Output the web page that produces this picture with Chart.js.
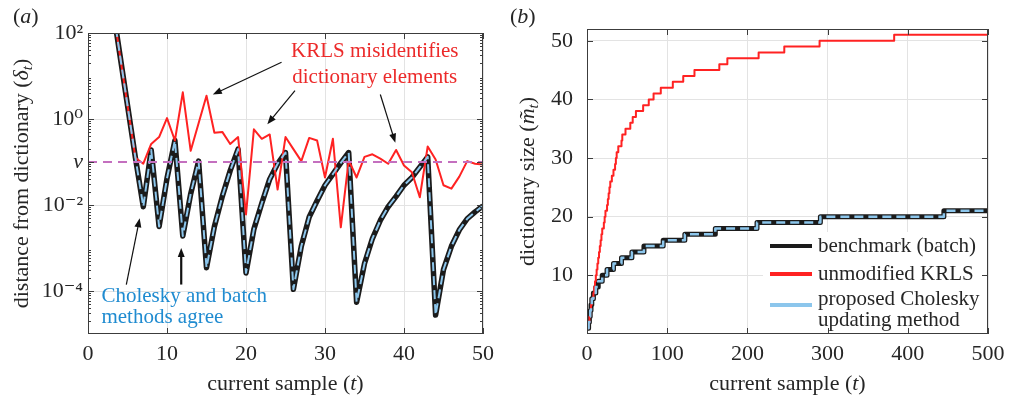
<!DOCTYPE html>
<html lang="en">
<head>
    <meta charset="UTF-8">
    <title>Dictionary distance and size</title>
    <script src="https://cdn.jsdelivr.net/npm/chart.js@4"></script>
    <style>
        html, body { margin: 0; padding: 0; background: #fff; }
        .wrap { position: relative; width: 1012px; height: 401px; }
        canvas { position: absolute; top: 0; }
        #chartA { left: 0; }
        #chartB { left: 506px; }
    </style>
</head>
<body>
    <div class="wrap">
        <canvas id="chartA" width="506" height="401"></canvas>
        <canvas id="chartB" width="506" height="401"></canvas>
    </div>

    <script>
        // panel (a): distance from dictionary, exponents (log10)
        var sampleT = [3, 4, 5, 6, 7, 8, 9, 10, 11, 12, 13, 14, 15, 16, 17, 18, 19, 20, 21, 22, 23, 24, 25, 26,
                       27, 28, 29, 30, 31, 32, 33, 34, 35, 36, 37, 38, 39, 40, 41, 42, 43, 44, 45, 46, 47, 48, 49, 50];
        var benchLog = [2.76, 1.54, 0.32, -0.90, -2.04, -0.72, -2.50, -1.38, -0.50, -2.72, -1.74, -0.98,
                        -3.46, -2.50, -1.80, -1.20, -0.70, -3.58, -2.56, -1.96, -1.40, -1.04, -0.78, -3.96,
                        -2.96, -2.28, -1.90, -1.54, -1.28, -1.02, -0.78, -4.26, -3.36, -2.78, -2.36, -2.04,
                        -1.80, -1.54, -1.36, -1.12, -0.88, -4.56, -3.50, -2.96, -2.58, -2.32, -2.16, -2.02];
        var krlsLog = [2.76, 1.54, 0.32, -0.90, -1.04, -0.58, -0.42, 0.02, -0.50, 0.62, -0.74, -0.10,
                       0.54, -0.32, -0.30, -0.58, -0.42, -2.22, -0.24, -0.46, -0.36, -1.64, -0.42, -0.70,
                       -0.98, -0.44, -0.50, -1.36, -0.46, -2.52, -0.96, -1.36, -0.88, -0.82, -0.92, -1.04,
                       -0.72, -1.08, -1.24, -1.82, -0.64, -0.94, -1.54, -1.62, -1.34, -0.98, -1.04, -1.06];
        var nu = 0.1;
        var leftXTicks = [0, 10, 20, 30, 40, 50];
        var leftYTicks = [1e-4, 1e-2, nu, 1, 100];
        var leftYLabels = ['10⁻⁴', '10⁻²', 'ν', '10⁰', '10²'];

        // panel (b): dictionary size, sample t at which the size steps to m
        var benchStepT = [1, 2, 3, 4, 5, 6, 8, 11, 14, 19, 25, 33, 43, 56, 71, 95, 122, 160, 212, 291, 445, 500];
        var benchStepM = [1, 2, 3, 4, 5, 6, 7, 8, 9, 10, 11, 12, 13, 14, 15, 16, 17, 18, 19, 20, 21, 21];
        var krlsStepT = [1, 2, 3, 4, 5, 6, 8, 9, 10, 11, 12, 13, 14, 15, 16, 17, 18, 19, 21, 22, 23, 25, 26, 27,
                         28, 29, 31, 33, 35, 36, 37, 39, 43, 44, 48, 54, 57, 61, 70, 77, 83, 92, 107, 120, 134,
                         165, 175, 214, 246, 290, 383, 500];
        var krlsStepM = [1, 2, 3, 4, 5, 6, 7, 8, 9, 10, 11, 12, 13, 14, 15, 16, 17, 18, 19, 20, 21, 22, 23, 24,
                         25, 26, 27, 28, 29, 30, 31, 32, 33, 34, 35, 36, 37, 38, 39, 40, 41, 42, 43, 44, 45,
                         46, 47, 48, 49, 50, 51, 51];
        var rightXTicks = [0, 100, 200, 300, 400, 500];
        var rightYTicks = [10, 20, 30, 40, 50];
        var legendLabels = [['benchmark (batch)'], ['unmodified KRLS'], ['proposed Cholesky', 'updating method']];

        var SERIF = '"Liberation Serif", "Times New Roman", "DejaVu Serif", serif';
        var INK = '#262626';
        var GRID = '#e3e3e3';
        var BLACK = '#1b1b1b', RED = '#ff2222', BLUE = '#8cc6ec';

        function pts(xs, ys) {
            return xs.map(function (x, i) { return { x: x, y: ys[i] }; });
        }
        function pow10(v) { return Math.pow(10, v); }
        function fontOf(p) {
            return (p.i ? 'italic ' : '') + (p.sub ? 15 : 22) + 'px ' + SERIF;
        }

        // text with italic / subscript pieces, centred on (x, y)
        function richText(ctx, parts, x, y, rot) {
            ctx.save();
            ctx.translate(x, y);
            ctx.rotate(rot || 0);
            var w = 0;
            parts.forEach(function (p) { ctx.font = fontOf(p); p.w = ctx.measureText(p.t).width; w += p.w; });
            var cx = -w / 2;
            ctx.textAlign = 'left';
            ctx.textBaseline = 'middle';
            ctx.fillStyle = INK;
            parts.forEach(function (p) {
                ctx.font = fontOf(p);
                ctx.fillText(p.t, cx, p.sub ? 6 : 0);
                cx += p.w;
            });
            ctx.restore();
        }

        function drawArrow(ctx, x1, y1, x2, y2, w) {
            var ang = Math.atan2(y2 - y1, x2 - x1), L = 9, H = 3.5;
            ctx.lineWidth = w;
            ctx.beginPath();
            ctx.moveTo(x1, y1);
            ctx.lineTo(x2 - Math.cos(ang) * L * 0.8, y2 - Math.sin(ang) * L * 0.8);
            ctx.stroke();
            ctx.beginPath();
            ctx.moveTo(x2, y2);
            ctx.lineTo(x2 - L * Math.cos(ang) + H * Math.sin(ang), y2 - L * Math.sin(ang) - H * Math.cos(ang));
            ctx.lineTo(x2 - L * Math.cos(ang) - H * Math.sin(ang), y2 - L * Math.sin(ang) + H * Math.cos(ang));
            ctx.closePath();
            ctx.fill();
        }

        // box with inward tick marks, like the original figure
        var frameBox = {
            id: 'frameBox',
            afterDraw: function (chart) {
                var ctx = chart.ctx, a = chart.chartArea;
                var xs = chart.scales.x, ys = chart.scales.y;
                ctx.save();
                ctx.strokeStyle = '#3c3c3c';
                ctx.lineWidth = 1;
                ctx.beginPath();
                xs.ticks.forEach(function (t) {
                    var px = Math.round(xs.getPixelForValue(t.value)) + 0.5;
                    ctx.moveTo(px, a.bottom); ctx.lineTo(px, a.bottom - 6);
                    ctx.moveTo(px, a.top); ctx.lineTo(px, a.top + 6);
                });
                ys.ticks.forEach(function (t) {
                    var py = Math.round(ys.getPixelForValue(t.value)) + 0.5;
                    ctx.moveTo(a.left, py); ctx.lineTo(a.left + 6, py);
                    ctx.moveTo(a.right, py); ctx.lineTo(a.right - 6, py);
                });
                if (ys.type === 'logarithmic') {
                    for (var k = -5; k < 2; k++) {
                        for (var d = 2; d < 10; d++) {
                            var py = Math.round(ys.getPixelForValue(d * Math.pow(10, k))) + 0.5;
                            ctx.moveTo(a.left, py); ctx.lineTo(a.left + 3, py);
                            ctx.moveTo(a.right, py); ctx.lineTo(a.right - 3, py);
                        }
                    }
                }
                ctx.stroke();
                ctx.strokeRect(Math.round(a.left) + 0.5, Math.round(a.top) + 0.5,
                               Math.round(a.right - a.left) - 1, Math.round(a.bottom - a.top) - 1);
                ctx.restore();
            }
        };

        // panel letter, axis titles, annotations and the inside legend
        var notes = {
            id: 'notes',
            afterDatasetsDraw: function (chart, args, o) {
                if (!o.legend) return;
                var ctx = chart.ctx, a = chart.chartArea;
                ctx.save();
                ctx.fillStyle = '#fff';
                ctx.fillRect(a.right - 225, a.bottom - 102, 222, 101);
                var rows = [{ y: -88, ds: 2 }, { y: -60, ds: 1 }, { y: -29, ds: 0, ty: -35 }];
                rows.forEach(function (r, i) {
                    var ds = chart.data.datasets[r.ds];
                    ctx.strokeStyle = ds.borderColor;
                    ctx.lineWidth = 4;
                    ctx.beginPath();
                    ctx.moveTo(a.right - 218, a.bottom + r.y);
                    ctx.lineTo(a.right - 176, a.bottom + r.y);
                    ctx.stroke();
                    ctx.font = '21px ' + SERIF;
                    ctx.fillStyle = INK;
                    ctx.textAlign = 'left';
                    ctx.textBaseline = 'middle';
                    legendLabels[i].forEach(function (line, j) {
                        ctx.fillText(line, a.right - 170, a.bottom + (r.ty || r.y) + j * 21);
                    });
                });
                ctx.restore();
            },
            afterDraw: function (chart, args, o) {
                var ctx = chart.ctx, a = chart.chartArea;
                var xs = chart.scales.x, ys = chart.scales.y;
                ctx.save();
                // panel letter
                ctx.textBaseline = 'middle';
                ctx.textAlign = 'left';
                ctx.fillStyle = INK;
                var px = o.panelX;
                [['(', ''], [o.panel, 'italic '], [')', '']].forEach(function (p) {
                    ctx.font = p[1] + '22px ' + SERIF;
                    ctx.fillText(p[0], px, 17);
                    px += ctx.measureText(p[0]).width;
                });
                ctx.restore();

                richText(ctx, o.xTitle, (a.left + a.right) / 2, 384, 0);
                richText(ctx, o.yTitle, 22, (a.top + a.bottom) / 2, -Math.PI / 2);

                ctx.save();
                (o.texts || []).forEach(function (t) {
                    ctx.font = '21px ' + SERIF;
                    ctx.fillStyle = t.color;
                    ctx.textAlign = t.align;
                    ctx.textBaseline = 'middle';
                    ctx.fillText(t.text, xs.getPixelForValue(t.x), ys.getPixelForValue(t.y));
                });
                ctx.strokeStyle = '#111';
                ctx.fillStyle = '#111';
                (o.arrows || []).forEach(function (r) {
                    drawArrow(ctx, xs.getPixelForValue(r.x1), ys.getPixelForValue(r.y1),
                              xs.getPixelForValue(r.x2), ys.getPixelForValue(r.y2), r.w);
                });
                ctx.restore();
            }
        };

        function lineSet(label, data, color, width, dash, stepped) {
            return {
                label: label,
                data: data,
                borderColor: color,
                borderWidth: width,
                borderDash: dash || [],
                borderJoinStyle: 'round',
                borderCapStyle: 'butt',
                stepped: stepped || false,
                pointRadius: 0,
                tension: 0,
                fill: false,
                clip: 0
            };
        }

        function tickFont(ctx) {
            var italic = ctx.tick && ctx.tick.value === nu && ctx.scale && ctx.scale.type === 'logarithmic';
            return { family: SERIF, size: 22, style: italic ? 'italic' : 'normal' };
        }

        // ---- panel (a) ----
        new Chart(document.getElementById('chartA'), {
            type: 'line',
            data: {
                datasets: [
                    lineSet('ν', pts([0, 50], [nu, nu]), '#c46fbf', 2, [9, 6]),
                    lineSet('proposed Cholesky updating method', pts(sampleT, benchLog.map(pow10)), BLUE, 2, [9, 5]),
                    lineSet('unmodified KRLS', pts(sampleT, krlsLog.map(pow10)), RED, 2),
                    lineSet('benchmark (batch)', pts(sampleT, benchLog.map(pow10)), BLACK, 5.5)
                ]
            },
            options: {
                responsive: false,
                animation: false,
                layout: { padding: { left: 0, top: 33, right: 23, bottom: 0 } },
                plugins: {
                    legend: { display: false },
                    tooltip: { enabled: false },
                    notes: {
                        panel: 'a',
                        panelX: 13,
                        xTitle: [{ t: 'current sample (' }, { t: 't', i: true }, { t: ')' }],
                        yTitle: [{ t: 'distance from dictionary (' }, { t: 'δ', i: true }, { t: 't', i: true, sub: true }, { t: ')' }],
                        texts: [
                            { text: 'KRLS misidentifies', x: 36.3, y: pow10(1.57), color: '#ec2a2a', align: 'center' },
                            { text: 'dictionary elements', x: 36.3, y: pow10(0.97), color: '#ec2a2a', align: 'center' },
                            { text: 'Cholesky and batch', x: 1.7, y: pow10(-4.12), color: '#1f8bd0', align: 'left' },
                            { text: 'methods agree', x: 1.7, y: pow10(-4.61), color: '#1f8bd0', align: 'left' }
                        ],
                        arrows: [
                            { x1: 24.5, y1: pow10(1.32), x2: 15.8, y2: pow10(0.57), w: 1.2 },
                            { x1: 26.2, y1: pow10(0.66), x2: 22.7, y2: pow10(-0.12), w: 1.2 },
                            { x1: 37.0, y1: pow10(0.57), x2: 38.9, y2: pow10(-0.55), w: 1.2 },
                            { x1: 4.85, y1: pow10(-3.85), x2: 6.54, y2: pow10(-2.31), w: 1.2 },
                            { x1: 11.8, y1: pow10(-3.85), x2: 11.8, y2: pow10(-3.0), w: 2.2 }
                        ]
                    }
                },
                scales: {
                    x: {
                        type: 'linear', min: 0, max: 50,
                        afterBuildTicks: function (s) { s.ticks = leftXTicks.map(function (v) { return { value: v }; }); },
                        afterFit: function (s) { s.height = 67; },
                        grid: { color: GRID, drawTicks: false },
                        border: { display: false },
                        ticks: { font: tickFont, color: INK, padding: 7, autoSkip: false, maxRotation: 0 }
                    },
                    y: {
                        type: 'logarithmic', min: 1e-5, max: 100,
                        afterBuildTicks: function (s) { s.ticks = leftYTicks.map(function (v) { return { value: v }; }); },
                        afterFit: function (s) { s.width = 88; },
                        grid: {
                            color: function (c) { return c.tick && c.tick.value === nu ? 'rgba(0,0,0,0)' : GRID; },
                            drawTicks: false
                        },
                        border: { display: false },
                        ticks: {
                            font: tickFont, color: INK, padding: 5, autoSkip: false,
                            callback: function (v, i) { return leftYLabels[i]; }
                        }
                    }
                }
            },
            plugins: [notes, frameBox]
        });

        // ---- panel (b) ----
        new Chart(document.getElementById('chartB'), {
            type: 'line',
            data: {
                datasets: [
                    lineSet('proposed Cholesky updating method', pts(benchStepT, benchStepM), BLUE, 2.5, [9, 5], 'before'),
                    lineSet('unmodified KRLS', pts(krlsStepT, krlsStepM), RED, 2, null, 'before'),
                    lineSet('benchmark (batch)', pts(benchStepT, benchStepM), BLACK, 5, null, 'before')
                ]
            },
            options: {
                responsive: false,
                animation: false,
                layout: { padding: { left: 0, top: 29, right: 24, bottom: 0 } },
                plugins: {
                    legend: { display: false },
                    tooltip: { enabled: false },
                    notes: {
                        panel: 'b',
                        panelX: 4,
                        legend: true,
                        xTitle: [{ t: 'current sample (' }, { t: 't', i: true }, { t: ')' }],
                        yTitle: [{ t: 'dictionary size (' }, { t: 'm\u0303', i: true }, { t: 't', i: true, sub: true }, { t: ')' }]
                    }
                },
                scales: {
                    x: {
                        type: 'linear', min: 0, max: 500,
                        afterBuildTicks: function (s) { s.ticks = rightXTicks.map(function (v) { return { value: v }; }); },
                        afterFit: function (s) { s.height = 67; },
                        grid: { color: GRID, drawTicks: false },
                        border: { display: false },
                        ticks: { font: tickFont, color: INK, padding: 7, autoSkip: false, maxRotation: 0 }
                    },
                    y: {
                        type: 'linear', min: 0, max: 52,
                        afterBuildTicks: function (s) { s.ticks = rightYTicks.map(function (v) { return { value: v }; }); },
                        afterFit: function (s) { s.width = 81; },
                        grid: { color: GRID, drawTicks: false },
                        border: { display: false },
                        ticks: { font: tickFont, color: INK, padding: 14, autoSkip: false }
                    }
                }
            },
            plugins: [notes, frameBox]
        });
    </script>
</body>
</html>
